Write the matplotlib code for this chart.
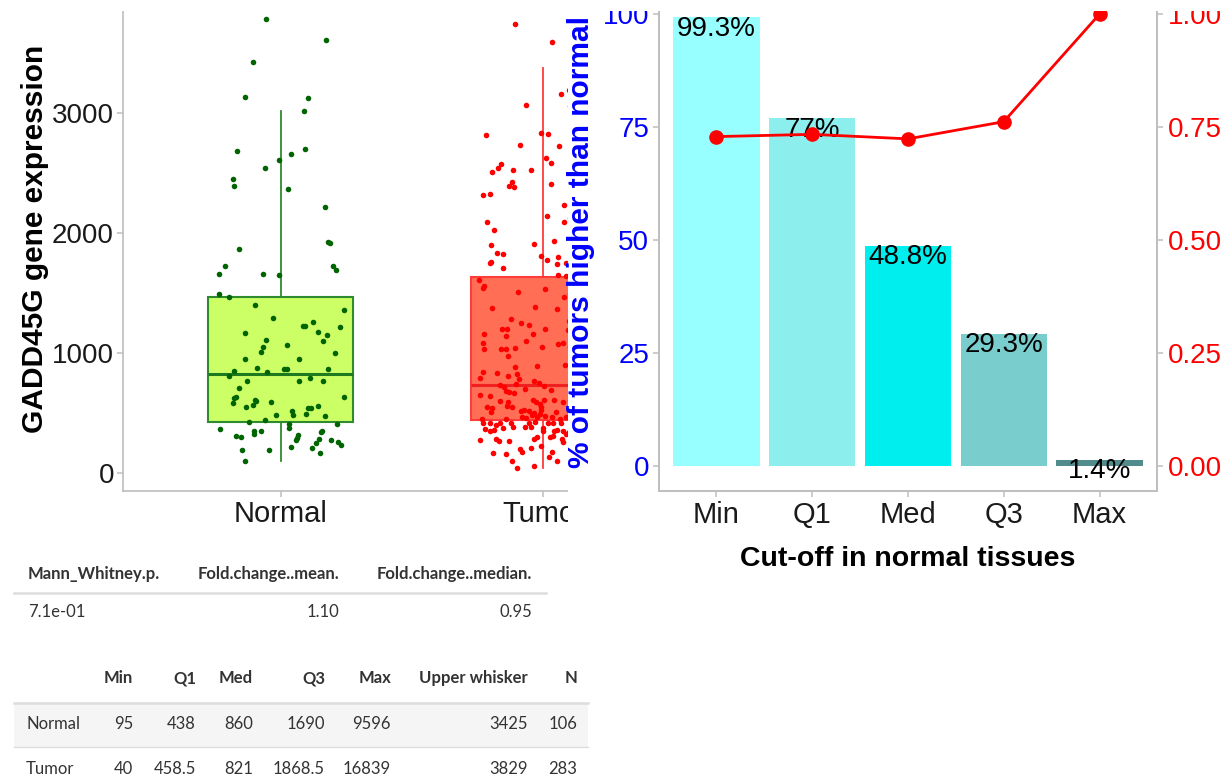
import matplotlib
matplotlib.use("Agg")
import matplotlib.pyplot as plt
from matplotlib.patches import Rectangle
from matplotlib.lines import Line2D

plt.rcParams['font.family'] = ['Liberation Sans', 'DejaVu Sans']

# ---------------- data ----------------
groups = ['Normal', 'Tumor']

# box statistics drawn in the expression panel
normal_box = dict(whislo=95, q1=422, med=822, q3=1467, whishi=3017)
tumor_box = dict(whislo=40, q1=436, med=733, q3=1633, whishi=3370)

# jittered samples: horizontal jitter (category units) and expression value
normal_jit = [-0.054, 0.172, -0.105, -0.135, 0.103, 0.089, -0.167, 0.040, 0.093, -0.007,
              -0.058, -0.183, -0.179, 0.029, 0.170, 0.179, 0.187, -0.160, -0.213, -0.233,
              -0.067, -0.005, 0.200, 0.211, -0.236, -0.196, -0.098, 0.242, -0.028, 0.087,
              0.094, 0.123, 0.227, -0.137, 0.141, 0.175, -0.057, 0.163, -0.068, 0.026,
              -0.074, 0.208, -0.135, 0.070, -0.177, -0.091, 0.013, 0.024, -0.053, 0.182,
              -0.195, -0.159, -0.128, 0.070, 0.112, 0.160, -0.169, -0.177, -0.183, -0.099,
              -0.093, -0.133, -0.107, -0.035, 0.242, -0.016, 0.044, 0.047, 0.097, 0.104,
              0.116, 0.141, 0.167, -0.120, -0.058, -0.231, -0.169, -0.152, -0.103, -0.100,
              -0.074, 0.031, 0.031, 0.067, 0.062, 0.057, 0.156, 0.155, 0.145, 0.136,
              0.193, 0.219, 0.228, 0.215, -0.146, -0.044, 0.041, 0.121, 0.148, -0.137]
normal_expr = [3783, 3603, 3425, 3131, 3122, 3017, 2683, 2658, 2700, 2608,
               2542, 2450, 2387, 2367, 2214, 1918, 1910, 1867, 1722, 1656,
               1656, 1645, 1725, 1689, 1489, 1462, 1397, 1356, 1289, 1220,
               1220, 1258, 1217, 1167, 1175, 1147, 1106, 1097, 1050, 1067,
               1003, 995, 945, 945, 850, 872, 864, 864, 839, 861,
               803, 706, 761, 761, 789, 761, 633, 625, 578, 606,
               595, 550, 561, 589, 633, 483, 510, 483, 489, 536,
               536, 553, 475, 422, 436, 361, 308, 297, 347, 322,
               350, 408, 375, 317, 292, 270, 350, 342, 278, 245,
               270, 253, 233, 403, 189, 187, 217, 203, 162, 95]

tumor_jit = [-0.108, 0.034, 0.096, 0.067, 0.100, -0.067, -0.217, -0.008, 0.019, -0.090,
             0.059, 0.010, 0.028, -0.163, -0.171, -0.197, -0.117, -0.048, -0.119, -0.129,
             -0.112, 0.028, -0.230, -0.202, 0.078, 0.013, 0.079, 0.102, -0.216, -0.186,
             -0.198, -0.037, 0.041, -0.176, -0.152, -0.198, -0.202, -0.154, -0.008, 0.014,
             0.054, 0.051, 0.086, 0.056, 0.086, -0.244, -0.225, -0.231, -0.098, 0.008,
             0.101, 0.080, -0.195, -0.031, 0.051, -0.124, 0.096, -0.085, -0.054, -0.157,
             -0.139, 0.007, 0.092, -0.038, -0.227, -0.143, -0.065, -0.231, 0.075, 0.056,
             -0.226, -0.163, -0.143, -0.108, -0.004, 0.103, -0.134, -0.108, -0.025, 0.083,
             -0.231, -0.175, -0.135, -0.101, -0.240, -0.094, -0.036, -0.015, 0.004, -0.165,
             -0.148, -0.106, -0.070, -0.142, -0.131, -0.113, 0.028, -0.243, -0.205, -0.165,
             -0.135, -0.140, -0.039, -0.029, -0.014, 0.002, -0.009, 0.040, 0.074, 0.101,
             -0.216, -0.194, -0.198, -0.120, -0.085, -0.073, -0.054, -0.037, -0.013, -0.008,
             0.050, 0.098, -0.083, -0.065, -0.044, -0.025, 0.005, 0.032, -0.235, -0.144,
             0.064, 0.087, 0.101, -0.231, -0.203, -0.180, -0.165, -0.153, -0.123, -0.116,
             -0.223, -0.189, -0.203, -0.056, -0.046, -0.033, -0.070, -0.002, -0.002, 0.017,
             0.038, 0.069, 0.040, 0.052, 0.075, 0.070, 0.075, 0.098, 0.088, -0.240,
             -0.179, -0.170, -0.129, -0.034, -0.025, 0.026, 0.037, -0.088, -0.080, -0.046,
             -0.009, -0.190, -0.144, 0.034, 0.022, 0.051, -0.120, -0.036, -0.100]
tumor_expr = [3736, 3589, 3192, 3153, 3058, 3064, 2817, 2828, 2820, 2728,
              2725, 2623, 2581, 2575, 2539, 2508, 2525, 2520, 2420, 2389,
              2381, 2408, 2317, 2320, 2228, 2137, 2087, 2122, 2087, 2020,
              1898, 1903, 1933, 1831, 1820, 1756, 1745, 1708, 1803, 1775,
              1795, 1739, 1745, 1645, 1639, 1606, 1556, 1537, 1506, 1531,
              1492, 1464, 1370, 1378, 1361, 1283, 1267, 1245, 1231, 1195,
              1195, 1195, 1187, 1153, 1153, 1137, 1100, 1078, 1081, 1070,
              1028, 1033, 1033, 1036, 1050, 1045, 975, 881, 889, 897,
              842, 831, 806, 825, 792, 783, 761, 750, 722, 733,
              717, 742, 695, 681, 672, 667, 687, 650, 639, 595,
              587, 556, 606, 587, 575, 606, 548, 606, 589, 606,
              548, 539, 503, 550, 517, 525, 517, 495, 487, 520,
              506, 548, 467, 458, 481, 467, 472, 467, 445, 445,
              445, 467, 495, 417, 411, 397, 417, 372, 411, 383,
              361, 358, 345, 417, 383, 422, 383, 370, 350, 411,
              411, 417, 345, 356, 345, 278, 256, 339, 322, 272,
              278, 264, 264, 283, 300, 295, 306, 195, 175, 203,
              222, 162, 156, 172, 133, 100, 100, 58, 39]

# cut-off comparison panel
cutoffs = ['Min', 'Q1', 'Med', 'Q3', 'Max']
pct_higher = [99.3, 77, 48.8, 29.3, 1.4]
ratio_line = [0.729, 0.734, 0.724, 0.762, 1.0]
bar_colors = ['#97FFFF', '#8DEEEE', '#00EEEE', '#79CDCD', '#528B8B']

# summary tables
t1_header = ['Mann_Whitney.p.', 'Fold.change..mean.', 'Fold.change..median.']
t1_row = ['7.1e-01', '1.10', '0.95']
t2_header = ['Min', 'Q1', 'Med', 'Q3', 'Max', 'Upper whisker', 'N']
t2_rows = {
    'Normal': ['95', '438', '860', '1690', '9596', '3425', '106'],
    'Tumor': ['40', '458.5', '821', '1868.5', '16839', '3829', '283'],
}

# ---------------- figure ----------------
W, H = 1231, 778
fig = plt.figure(figsize=(W / 100, H / 100), dpi=100)
fig.patch.set_facecolor('white')


def fx(px):
    return px / W


def fy(py):
    return 1 - py / H


def axes_px(x0, y0, x1, y1, **kw):
    return fig.add_axes([fx(x0), fy(y1), (x1 - x0) / W, (y1 - y0) / H], **kw)


GREY = '#BEBEBE'
YTICK_FS = 20
XTICK_FS = 21
LAB_FS = 21.5

# ---- expression boxplot ----
axl = axes_px(123, -9.5, 701, 490.6, zorder=0)
axl.set_xlim(0.4, 2.6)
axl.set_ylim(-149.5, 4018)

styles = [
    dict(fill='#CCFF66', edge='#2E8B2E', med='#1F7A1F', pt='#006400'),
    dict(fill='#FF6E55', edge='#FF3B3B', med='#F02020', pt='#FF0000'),
]
for pos, st, box in zip([1, 2], styles, [normal_box, tumor_box]):
    axl.bxp([box], positions=[pos], widths=0.55, patch_artist=True,
            showfliers=False, showcaps=False,
            boxprops=dict(facecolor=st['fill'], edgecolor=st['edge'], linewidth=1.5),
            whiskerprops=dict(color=st['edge'], linewidth=1.3),
            medianprops=dict(color=st['med'], linewidth=2.2),
            manage_ticks=False)

axl.scatter([1 + j for j in normal_jit], normal_expr, s=16, color=styles[0]['pt'],
            zorder=5, linewidths=0)
axl.scatter([2 + j for j in tumor_jit], tumor_expr, s=16, color=styles[1]['pt'],
            zorder=5, linewidths=0)

axl.set_xticks([1, 2])
axl.set_xticklabels(groups)
axl.set_yticks([0, 1000, 2000, 3000])
for s in ['top', 'right']:
    axl.spines[s].set_visible(False)
for s in ['left', 'bottom']:
    axl.spines[s].set_color(GREY)
    axl.spines[s].set_linewidth(1.2)
axl.tick_params(axis='both', colors=GREY, length=4, width=1.1, labelcolor='#1A1A1A')
axl.tick_params(axis='y', pad=2.5, labelsize=YTICK_FS)
axl.tick_params(axis='x', pad=2.5, labelsize=XTICK_FS)
fig.text(fx(35), fy(239), 'GADD45G gene expression', rotation=90, ha='center',
         va='center', fontsize=LAB_FS, fontweight='bold', color='black')

# white backdrop for the cut-off panel, which sits over the boxplot's right side
fig.patches.append(Rectangle((fx(568), fy(540)), 1 - fx(568), 540 / H,
                             transform=fig.transFigure, facecolor='white',
                             edgecolor='none', zorder=1))

# ---- cut-off bar panel ----
axr = axes_px(659, -8.5, 1157, 491, zorder=2)
x = list(range(1, len(cutoffs) + 1))
axr.bar(x, pct_higher, width=0.9, color=bar_colors, zorder=2)
for xi, v in zip(x, pct_higher):
    axr.text(xi, v + 0.3, f'{v:g}%', ha='center', va='top', fontsize=20,
             color='black', zorder=3)
axr.set_xlim(0.4, 5.6)
axr.set_ylim(-5.5, 105)
axr.set_xticks(x)
axr.set_xticklabels(cutoffs)
axr.set_yticks([0, 25, 50, 75, 100])
for s in axr.spines.values():
    s.set_color(GREY)
    s.set_linewidth(1.2)
axr.tick_params(axis='both', colors=GREY, length=4, width=1.1)
axr.tick_params(axis='y', labelcolor='#0000FF', pad=3, labelsize=YTICK_FS)
axr.tick_params(axis='x', labelcolor='#1A1A1A', pad=3, labelsize=XTICK_FS)

axt = axr.twinx()
axt.set_ylim(-0.055, 1.05)
axt.plot(x, ratio_line, color='#FF0000', linewidth=2, marker='o',
         markersize=9.5, zorder=4, clip_on=False)
axt.set_yticks([0, 0.25, 0.5, 0.75, 1.0])
axt.set_yticklabels(['0.00', '0.25', '0.50', '0.75', '1.00'])
for s in axt.spines.values():
    s.set_color(GREY)
    s.set_linewidth(1.2)
axt.tick_params(axis='y', colors=GREY, length=4, width=1.1, labelsize=YTICK_FS,
                labelcolor='#FF0000', pad=4)

fig.text(fx(908), fy(559), 'Cut-off in normal tissues', ha='center', va='center',
         fontsize=20.5, fontweight='bold', color='black')
fig.text(fx(581), fy(242), '% of tumors higher than normal', rotation=90,
         ha='center', va='center', fontsize=LAB_FS, fontweight='bold',
         color='#0000FF', zorder=3)

# the chart area begins just below a blank strip along the top edge
fig.patches.append(Rectangle((0, fy(11)), 1, 11 / H, transform=fig.transFigure,
                             facecolor='white', edgecolor='none', zorder=10))

# ---------------- tables ----------------
TFONT = ['Lato', 'DejaVu Sans']
TCOL = '#333333'
TFS = 12


def hline(y, x0, x1, lw, color='#DDDDDD'):
    fig.lines.append(Line2D([fx(x0), fx(x1)], [fy(y), fy(y)], transform=fig.transFigure,
                            color=color, linewidth=lw))


# significance / fold-change table
t1_x = [(28, 'left'), (339, 'right'), (532, 'right')]
for (xp, ha), h in zip(t1_x, t1_header):
    fig.text(fx(xp), fy(574), h, ha=ha, va='center', fontsize=TFS,
             fontweight='bold', color=TCOL, family=TFONT)
hline(593, 14, 546, 1.8)
for (xp, ha), v in zip(t1_x, t1_row):
    fig.text(fx(xp), fy(612), v, ha=ha, va='center', fontsize=TFS, color=TCOL,
             family=TFONT)

# quartile summary table
t2_xr = [133, 196, 253, 325, 391, 528, 577]
for xp, h in zip(t2_xr, t2_header):
    fig.text(fx(xp), fy(678), h, ha='right', va='center', fontsize=TFS,
             fontweight='bold', color=TCOL, family=TFONT)
fig.patches.append(Rectangle((fx(14), fy(747)), (588 - 14) / W, 43 / H,
                             transform=fig.transFigure, facecolor='#F5F5F5',
                             edgecolor='none', zorder=0))
hline(703, 14, 588, 1.8)
hline(747, 14, 588, 1.0)
for ry, (name, vals) in zip([724, 769], t2_rows.items()):
    fig.text(fx(26), fy(ry), name, ha='left', va='center', fontsize=TFS,
             color=TCOL, family=TFONT)
    for xp, v in zip(t2_xr, vals):
        fig.text(fx(xp), fy(ry), v, ha='right', va='center', fontsize=TFS,
                 color=TCOL, family=TFONT)

fig.savefig('out.png', dpi=100, facecolor='white')
